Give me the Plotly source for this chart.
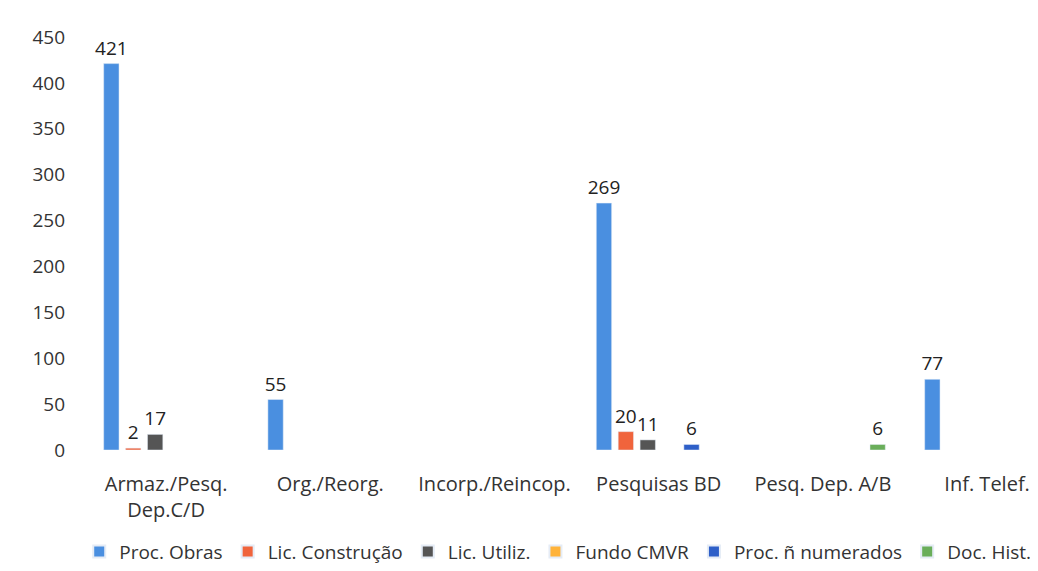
import plotly.graph_objects as go

categories = ["Armaz./Pesq.<br>Dep.C/D", "Org./Reorg.", "Incorp./Reincop.", "Pesquisas BD", "Pesq. Dep. A/B", "Inf. Telef."]
series_names = ["Proc. Obras", "Lic. Construção", "Lic. Utiliz.", "Fundo CMVR", "Proc. ñ numerados", "Doc. Hist."]
proc_obras = [421, 55, None, 269, None, 77]
lic_construcao = [2, None, None, 20, None, None]
lic_utiliz = [17, None, None, 11, None, None]
fundo_cmvr = [None, None, None, None, None, None]
proc_n_numerados = [None, None, None, 6, None, None]
doc_hist = [None, None, None, None, 6, None]
y_ticks = [0, 50, 100, 150, 200, 250, 300, 350, 400, 450]

colors = ["#4A8FE0", "#F0643C", "#555555", "#FFB33A", "#2E5FC8", "#6AAE5A"]
values = [proc_obras, lic_construcao, lic_utiliz, fundo_cmvr, proc_n_numerados, doc_hist]

fig = go.Figure()
for name, vals, col in zip(series_names, values, colors):
    fig.add_trace(go.Bar(
        x=categories, y=vals, name=name, marker_color=col,
        text=[("" if v is None else str(v)) for v in vals],
        textposition="outside", cliponaxis=False, constraintext="none",
        textfont=dict(size=19, color="#222222", family="Open Sans"),
    ))

fig.update_layout(
    width=1030, height=563,
    margin=dict(l=76, r=0, t=29, b=121, autoexpand=False),
    paper_bgcolor="white", plot_bgcolor="white",
    barmode="group", bargap=0.2, bargroupgap=0.3,
    font=dict(family="Open Sans", size=18, color="#333333"),
    showlegend=True,
    legend=dict(orientation="h", x=-0.005, xanchor="left", y=-0.2, yanchor="top",
                font=dict(size=19, color="#333333"), traceorder="normal",
                itemsizing="constant", tracegroupgap=0),
    xaxis=dict(range=[-0.5, 5.31], showgrid=False, showline=False, ticks="",
               tickfont=dict(size=20, color="#333333"), ticklabelstandoff=20,
               automargin=False),
    yaxis=dict(range=[0, 450], tickvals=y_ticks, showgrid=False, zeroline=False,
               showline=False, ticks="", tickfont=dict(size=19, color="#333333"),
               ticklabelstandoff=18, automargin=False),
)

fig.write_html("out.html")
